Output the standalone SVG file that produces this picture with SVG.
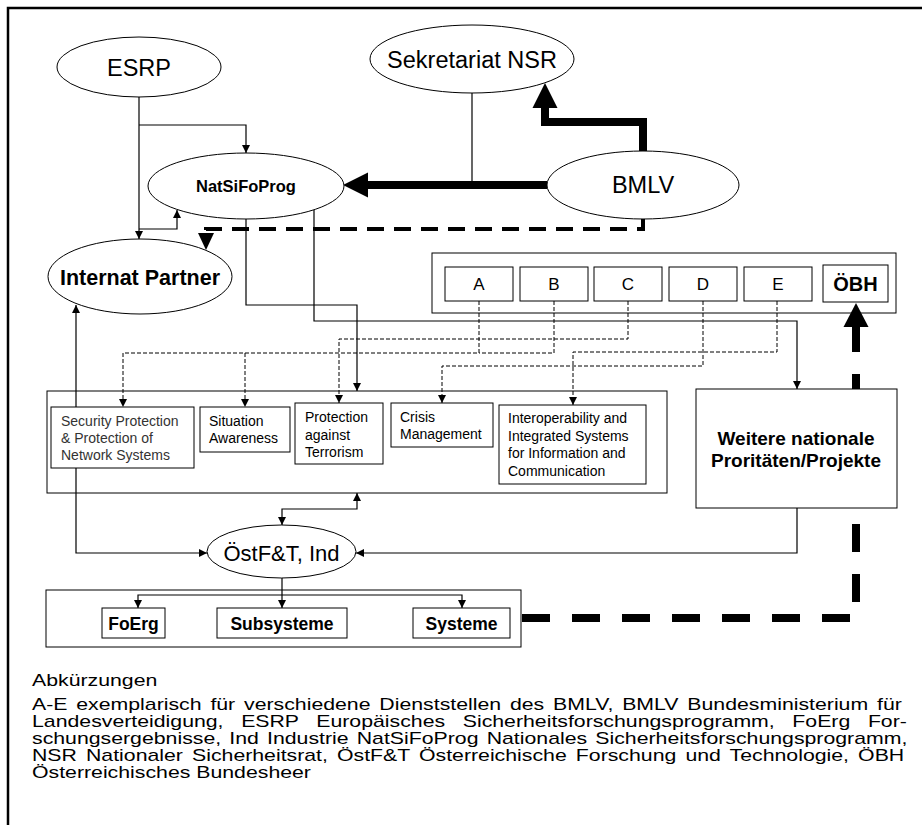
<svg xmlns="http://www.w3.org/2000/svg" width="922" height="825" viewBox="0 0 922 825">
<style>
text{font-family:"Liberation Sans",Arial,sans-serif;fill:#000}
.el{fill:#fff;stroke:#000;stroke-width:1}
.bx{fill:#fff;stroke:#000;stroke-width:1}
.cn{fill:none;stroke:#000;stroke-width:1}
.ln{fill:none;stroke:#000;stroke-width:1.2}
.dl{fill:none;stroke:#000;stroke-width:1;stroke-dasharray:4 2}
.ma{marker-end:url(#ar)}
.mb{marker-start:url(#ar);marker-end:url(#ar)}
.b{font-weight:bold}
.big{font-size:23.5px}
.tp{font-size:14px}
.lg{font-size:16px}
.c{text-anchor:middle}
</style>
<defs>
<marker id="ar" viewBox="0 0 8 8" refX="8" refY="4" markerWidth="8" markerHeight="8" markerUnits="userSpaceOnUse" orient="auto-start-reverse"><path d="M0,0L8,4L0,8z" fill="#000"/></marker>
</defs>
<rect x="0" y="0" width="922" height="825" fill="#fff"/>
<path d="M8,825V8H922" fill="none" stroke="#000" stroke-width="2.5"/>

<g id="topics-container"><rect x="47" y="391" width="620" height="102" class="cn"/></g>
<g id="units-container"><rect x="432" y="253" width="464" height="60" class="cn"/></g>
<g id="results-container"><rect x="46" y="590" width="475" height="57" class="cn"/></g>

<g id="connectors">
<path class="ln ma" d="M139,97V239"/>
<path class="ln ma" d="M139,125H246V153"/>
<path class="ln ma" d="M139,229H177V210"/>
<path class="ln" d="M472,93V185"/>
<path d="M547,185H366" fill="none" stroke="#000" stroke-width="8"/>
<polygon points="368,172.5 368,197.5 343,185"/>
<path d="M643,151V122H545V106" fill="none" stroke="#000" stroke-width="8"/>
<polygon points="532.5,108 557.5,108 545,83"/>
<path d="M643,218V229H206V234" fill="none" stroke="#000" stroke-width="4" stroke-dasharray="17 10"/>
<polygon points="198,233 214,233 206,250"/>
<path class="ln ma" d="M246,219V305H357V391"/>
<path class="ln ma" d="M314,210V321H797V389"/>
<path class="dl ma" d="M479,301V353H123V407"/>
<path class="dl" d="M554,301V353H479"/>
<path class="dl ma" d="M245,353V407"/>
<path class="dl ma" d="M628,301V339H339V403"/>
<path class="dl ma" d="M703,301V366H442V403"/>
<path class="dl ma" d="M777,301V352H573V405"/>
<path class="ln mb" d="M76,305V553H207"/>
<path class="ln ma" d="M797,508V553H356"/>
<path class="ln mb" d="M357,493V509H282V525"/>
<path class="ln ma" d="M282,578V608"/>
<path class="ln mb" d="M138,608V595H462V608"/>
<path d="M522,618H856V327" fill="none" stroke="#000" stroke-width="8" stroke-dasharray="28 22"/>
<polygon points="843.5,327 868.5,327 856,303"/>
</g>

<g id="esrp"><ellipse class="el" cx="139" cy="67" rx="82" ry="30"/><text class="big c" x="139" y="76">ESRP</text></g>
<g id="sekretariat-nsr"><ellipse class="el" cx="472" cy="59" rx="102" ry="34"/><text class="big c" x="472" y="68">Sekretariat NSR</text></g>
<g id="natsifoprog"><ellipse class="el" cx="246" cy="186" rx="98" ry="33"/><text class="b c" x="246" y="192" font-size="16.5">NatSiFoProg</text></g>
<g id="bmlv"><ellipse class="el" cx="643" cy="185" rx="96" ry="34"/><text class="big c" x="643" y="193">BMLV</text></g>
<g id="internat-partner"><ellipse class="el" cx="140" cy="276.5" rx="92" ry="37.5"/><text class="b c" x="140" y="285" font-size="21.5">Internat Partner</text></g>
<g id="ostft-ind"><ellipse class="el" cx="281.5" cy="551.5" rx="74.5" ry="26.5"/><text class="c" x="281.5" y="561" font-size="22">ÖstF&amp;T, Ind</text></g>

<g id="unit-a"><rect class="bx" x="445" y="267" width="68" height="34"/><text class="c" x="479" y="290" font-size="17">A</text></g>
<g id="unit-b"><rect class="bx" x="520" y="267" width="68" height="34"/><text class="c" x="554" y="290" font-size="17">B</text></g>
<g id="unit-c"><rect class="bx" x="594" y="267" width="68" height="34"/><text class="c" x="628" y="290" font-size="17">C</text></g>
<g id="unit-d"><rect class="bx" x="669" y="267" width="68" height="34"/><text class="c" x="703" y="290" font-size="17">D</text></g>
<g id="unit-e"><rect class="bx" x="744" y="267" width="68" height="34"/><text class="c" x="778" y="290" font-size="17">E</text></g>
<g id="obh"><rect class="bx" x="823" y="265" width="65" height="37" stroke-width="1.8"/><text class="b c" x="855.5" y="291" font-size="20">ÖBH</text></g>

<g id="security-protection"><rect class="bx" x="51" y="407" width="143" height="61"/><text class="tp" x="61" y="426" fill="#333" style="fill:#333">Security Protection<tspan x="61" dy="17">&amp; Protection of</tspan><tspan x="61" dy="17">Network Systems</tspan></text></g>
<g id="situation-awareness"><rect class="bx" x="200" y="407" width="90" height="45"/><text class="tp" x="209" y="426">Situation<tspan x="209" dy="17">Awareness</tspan></text></g>
<g id="protection-terrorism"><rect class="bx" x="295" y="403" width="88" height="61"/><text class="tp" x="305" y="422">Protection<tspan x="305" dy="17.5">against</tspan><tspan x="305" dy="17.5">Terrorism</tspan></text></g>
<g id="crisis-management"><rect class="bx" x="391" y="403" width="102" height="44"/><text class="tp" x="400" y="422">Crisis<tspan x="400" dy="17">Management</tspan></text></g>
<g id="interoperability"><rect class="bx" x="499" y="405" width="147" height="79"/><text class="tp" x="508" y="423">Interoperability and<tspan x="508" dy="17.5">Integrated Systems</tspan><tspan x="508" dy="17.5">for Information and</tspan><tspan x="508" dy="17.5">Communication</tspan></text></g>
<g id="weitere"><rect class="bx" x="696" y="389" width="201" height="119"/><text class="b c" x="796" y="445" font-size="19">Weitere nationale<tspan x="796" dy="22">Proritäten/Projekte</tspan></text></g>

<g id="foerg"><rect class="bx" x="102" y="608" width="63" height="30"/><text class="b c" x="133.5" y="630" font-size="17.5">FoErg</text></g>
<g id="subsysteme"><rect class="bx" x="217" y="608" width="130" height="30"/><text class="b c" x="282" y="630" font-size="17.5">Subsysteme</text></g>
<g id="systeme"><rect class="bx" x="413" y="608" width="97" height="30"/><text class="b c" x="461.5" y="630" font-size="17.5">Systeme</text></g>

<g id="legend" transform="translate(32 0) scale(1.33 1)">
<text class="lg" x="0" y="686">Abkürzungen</text>
<text class="lg" x="0" y="710" word-spacing="2.2">A-E exemplarisch für verschiedene Dienststellen des BMLV, BMLV Bundesministerium für</text>
<text class="lg" x="0" y="727" word-spacing="8.8">Landesverteidigung, ESRP Europäisches Sicherheitsforschungsprogramm, FoErg For-</text>
<text class="lg" x="0" y="744" word-spacing="1.7">schungsergebnisse, Ind Industrie NatSiFoProg Nationales Sicherheitsforschungsprogramm,</text>
<text class="lg" x="0" y="761" word-spacing="2.4">NSR Nationaler Sicherheitsrat, ÖstF&amp;T Österreichische Forschung und Technologie, ÖBH</text>
<text class="lg" x="0" y="778">Österreichisches Bundesheer</text>
</g>
</svg>
